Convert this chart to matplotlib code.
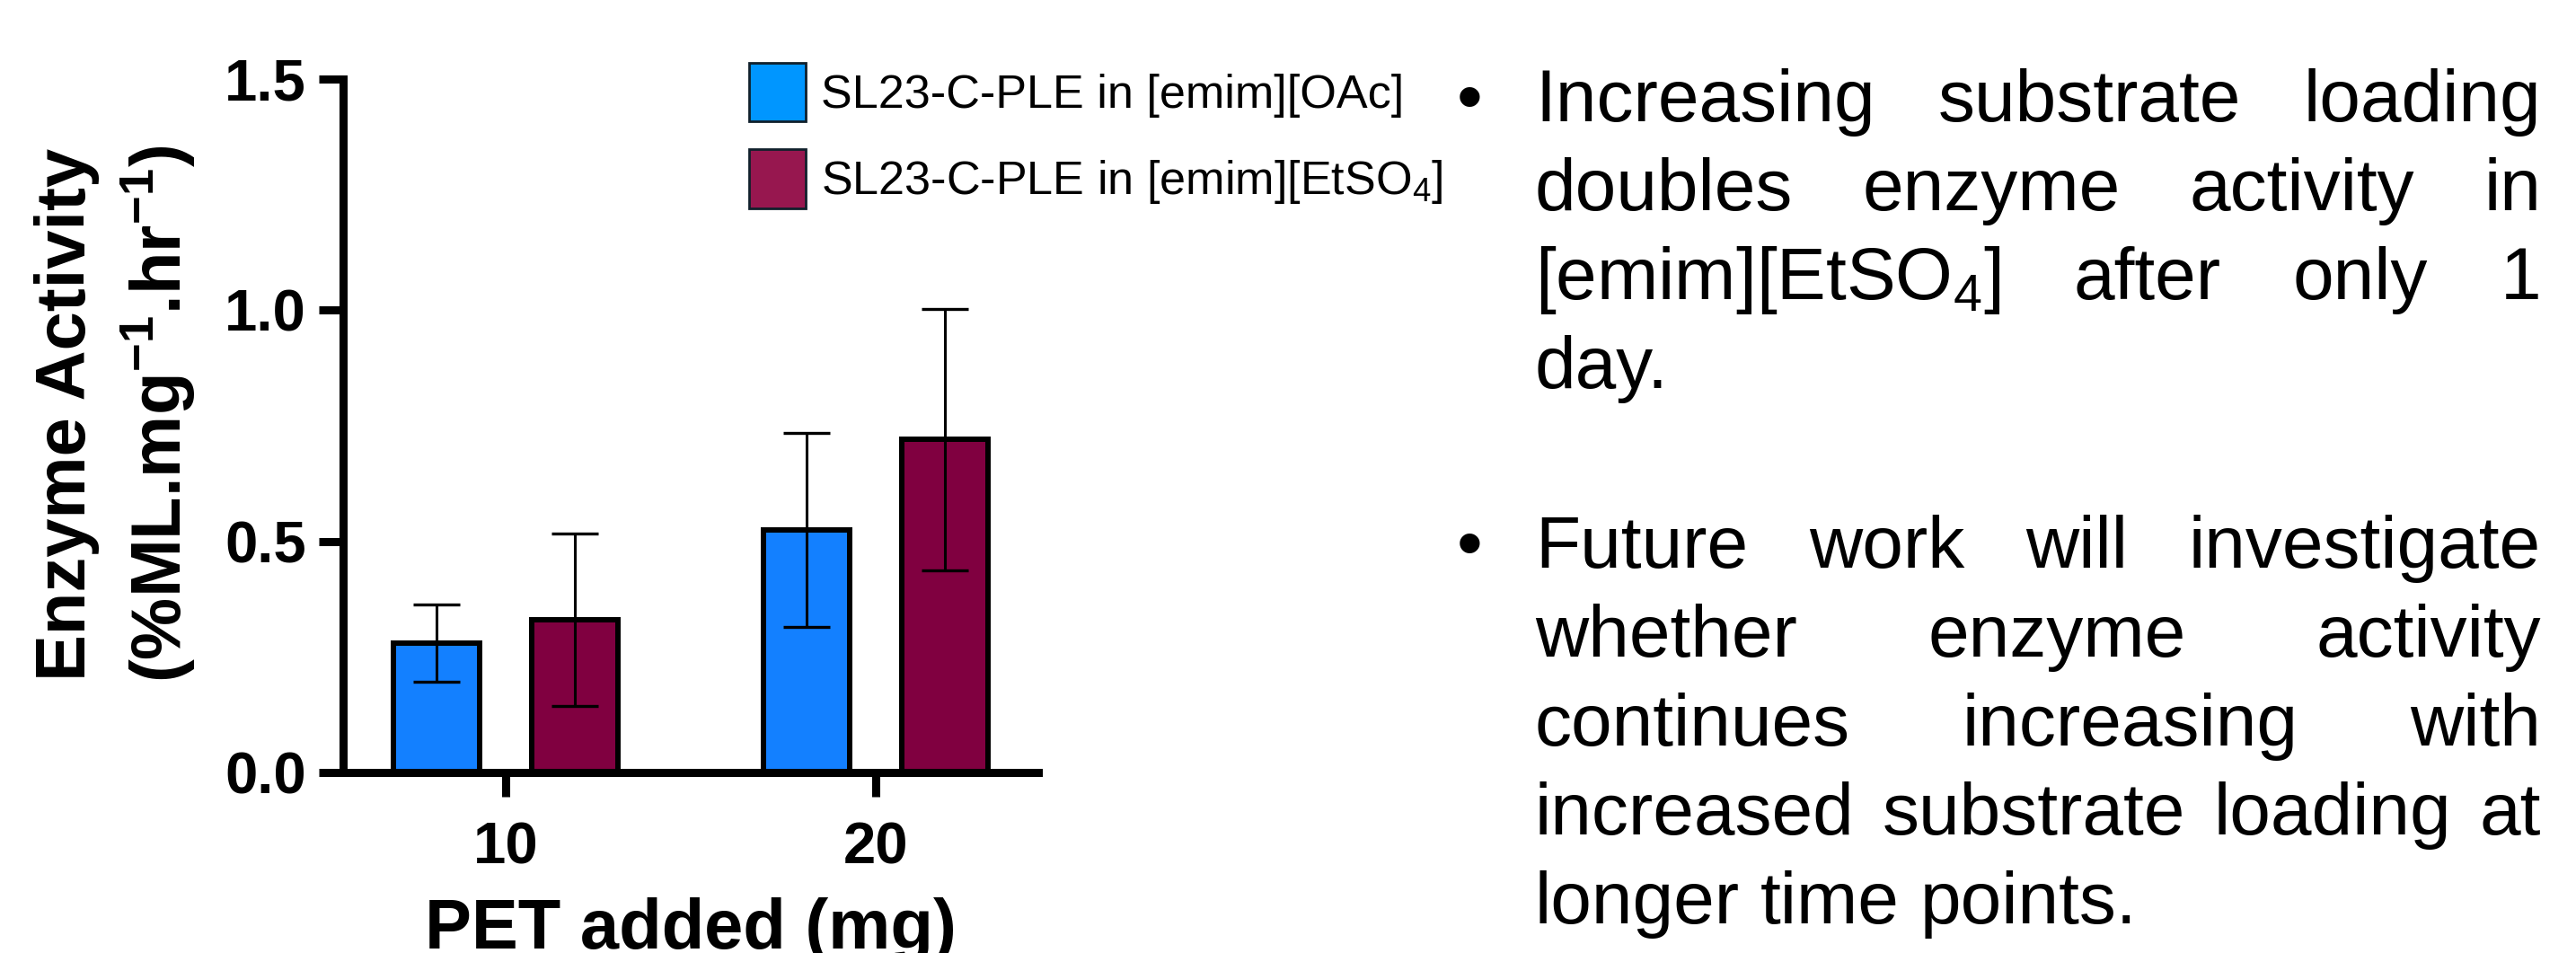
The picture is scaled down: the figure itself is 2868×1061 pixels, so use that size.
import matplotlib
matplotlib.use("Agg")
import matplotlib.pyplot as plt
from matplotlib.patches import Patch
import numpy as np

# --- Values ---
pet_added = ["10", "20"]                      # x categories (mg PET)
oac_activity = [0.28, 0.525]                  # SL23-C-PLE in [emim][OAc]
oac_sd = [0.084, 0.21]
etso4_activity = [0.33, 0.72]                 # SL23-C-PLE in [emim][EtSO4]
etso4_sd = [0.186, 0.283]
series_labels = ["SL23-C-PLE in [emim][OAc]",
                 r"SL23-C-PLE in [emim][EtSO$_\mathregular{4}$]"]
y_ticks = [0.0, 0.5, 1.0, 1.5]

bullet_1 = ["Increasing substrate loading",
            "doubles enzyme activity in",
            r"[emim][EtSO$_\mathregular{4}$] after only 1",
            "day."]
bullet_2 = ["Future work will investigate",
            "whether enzyme activity",
            "continues increasing with",
            "increased substrate loading at",
            "longer time points."]

# --- Styling ---
bar_colors = ["#1380FF", "#800040"]
legend_colors = ["#0096FF", "#97174F"]
plt.rcParams["font.family"] = ["Liberation Sans", "DejaVu Sans"]

W, H = 2868, 1061
fig = plt.figure(figsize=(W / 100, H / 100), dpi=100)
ax = fig.add_axes([382 / W, 1 - 860 / H, (1156 - 382) / W, (860 - 88) / H])

x = np.arange(len(pet_added))
width = 0.233
offset = 0.187
err_kw = dict(ecolor="black", elinewidth=2.2, capsize=19, capthick=2.4, zorder=5)
ax.bar(x - offset, oac_activity, width, yerr=oac_sd, color=bar_colors[0],
       edgecolor="black", linewidth=4.3, error_kw=err_kw, label=series_labels[0])
ax.bar(x + offset, etso4_activity, width, yerr=etso4_sd, color=bar_colors[1],
       edgecolor="black", linewidth=4.3, error_kw=err_kw, label=series_labels[1])

ax.set_xlim(-0.44, 1.44)
ax.set_ylim(0, 1.5)
ax.set_xticks(x)
ax.set_xticklabels(pet_added)
ax.set_yticks(y_ticks)
ax.set_yticklabels([f"{v:.1f}" for v in y_ticks])
for side in ["top", "right"]:
    ax.spines[side].set_visible(False)
for side in ["left", "bottom"]:
    ax.spines[side].set_linewidth(6.5)
ax.tick_params(axis="both", length=19.5, width=6.5, labelsize=47)
ax.tick_params(axis="x", pad=20)
ax.tick_params(axis="y", pad=10)
for lab in ax.get_xticklabels() + ax.get_yticklabels():
    lab.set_fontweight("bold")

ax.set_xlabel("PET added (mg)", fontsize=56, fontweight="bold")
ax.xaxis.set_label_coords(0.5, -0.18)
ax.set_ylabel("Enzyme Activity\n"
              r"(%ML.mg$^{\mathregular{-1}}$.hr$^{\mathregular{-1}}$)",
              fontsize=56, fontweight="bold", linespacing=1.3)
ax.yaxis.set_label_coords(-0.209, 0.517)

handles = [Patch(facecolor=c, edgecolor="#10202c", linewidth=2) for c in legend_colors]
ax.legend(handles, series_labels, loc="upper left",
          bbox_to_anchor=(834 / W, 1 - 70 / H), bbox_transform=fig.transFigure,
          frameon=False, prop=dict(family="Liberation Sans", size=37.5),
          handlelength=1.2, handleheight=1.55, handletextpad=0.33,
          labelspacing=0.6, borderpad=0, borderaxespad=0)

# --- Justified bullet text on the right ---
renderer = fig.canvas.get_renderer()
body = dict(fontsize=59, fontweight="normal", family="Liberation Sans", va="baseline")
left_px, right_px = 1709, 2829


def text_width(s):
    t = fig.text(0, 0, s, **body)
    w = t.get_window_extent(renderer).width
    t.remove()
    return w


space_px = text_width("a a") - 2 * text_width("a")


def draw_lines(lines, first_baseline, step):
    for i, line in enumerate(lines):
        y = 1 - (first_baseline + i * step) / H
        words = line.split()
        texts = [fig.text(0, y, w, **body) for w in words]
        widths = [t.get_window_extent(renderer).width for t in texts]
        last = i == len(lines) - 1
        if not last and len(words) > 1:
            gap = (right_px - left_px - sum(widths)) / (len(words) - 1)
        else:
            gap = space_px
        xpos = left_px
        for t, w in zip(texts, widths):
            t.set_x(xpos / W)
            xpos += w + gap
    fig.text(1622 / W, 1 - first_baseline / H, "\u2022", **body)


draw_lines(bullet_1, 135, 99)
draw_lines(bullet_2, 632, 99)

fig.savefig("out.png", dpi=100)
